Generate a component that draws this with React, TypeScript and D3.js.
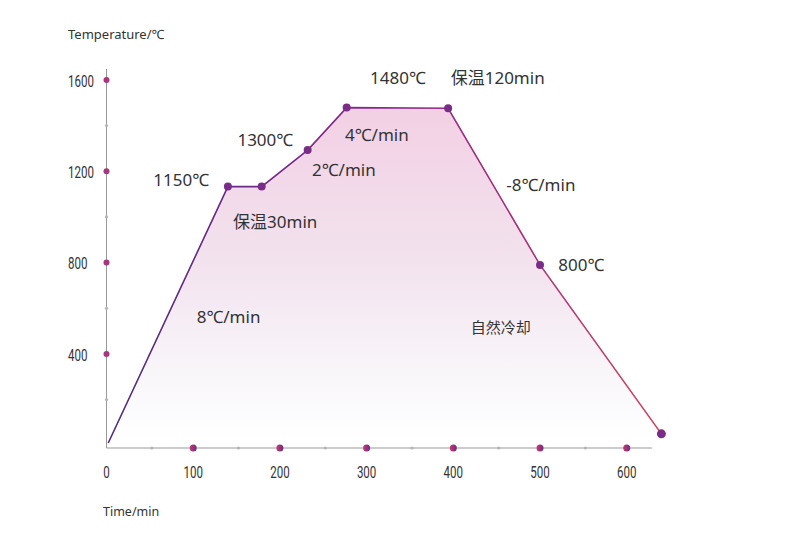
import React from "react";
import * as d3 from "d3";

const W = 793;
const H = 549;

// heating curve
const timeMin = [2, 140, 179, 232, 277, 394, 500, 640];
const tempC = [10, 1133, 1133, 1293, 1479, 1476, 790, 50];

const xTicks = [0, 100, 200, 300, 400, 500, 600];
const xMinor = [50, 150, 250, 350, 450, 550];
const yTicks = [400, 800, 1200, 1600];
const yMinor = [200, 600, 1000, 1400];

const noteText = ["1150℃", "保温30min", "1300℃", "2℃/min", "4℃/min", "1480℃", "保温120min", "-8℃/min", "800℃", "8℃/min", "自然冷却"];
const noteTime = [54, 146, 151, 237, 275, 304, 397, 461, 521, 104, 420];
const noteTemp = [1162, 982, 1338, 1206, 1363, 1609, 1609, 1140, 790, 566, 518];

const FONT = "'Noto Sans', 'Noto Sans CJK SC', sans-serif";
const TICK_FONT = "Roboto, 'DejaVu Sans', sans-serif";

// narrow tick text: squeeze horizontally around the anchor point
const Narrow = ({ x, y, anchor, children }: { x: number; y: number; anchor: "start" | "middle"; children: React.ReactNode }) => (
  <text
    transform={`translate(${x},${y}) scale(0.7,1)`}
    textAnchor={anchor}
    dominantBaseline="central"
    fontFamily={TICK_FONT}
    fontSize={16.5}
    fill="#333"
  >
    {children}
  </text>
);

export default function App() {
  const x = d3.scaleLinear().domain([0, 640]).range([106.5, 661.4]);
  const y = d3.scaleLinear().domain([-12, 1648]).range([448, 69]);

  const pts: [number, number][] = timeMin.map((t, i) => [t, tempC[i]]);

  const line = d3
    .line<[number, number]>()
    .x((d) => x(d[0]))
    .y((d) => y(d[1]));

  const area = d3
    .area<[number, number]>()
    .x((d) => x(d[0]))
    .y0(y(-12))
    .y1((d) => y(d[1]));

  const axisEnd = x(629);

  return (
    <svg
      width={W}
      height={H}
      style={{ position: "absolute", left: 0, top: 0, background: "#fff" }}
    >
      <defs>
        <linearGradient id="lineGrad" gradientUnits="userSpaceOnUse" x1={x(0)} y1={0} x2={x(640)} y2={0}>
          <stop offset="0%" stopColor="#4a2c80" />
          <stop offset="45%" stopColor="#86298a" />
          <stop offset="70%" stopColor="#a02c7a" />
          <stop offset="100%" stopColor="#d0425c" />
        </linearGradient>
        <linearGradient id="fillGrad" gradientUnits="userSpaceOnUse" x1={0} y1={y(1480)} x2={0} y2={y(-12)}>
          <stop offset="0%" stopColor="#f3d0e4" />
          <stop offset="45%" stopColor="#f2e2ee" />
          <stop offset="78%" stopColor="#f9f6fa" />
          <stop offset="90%" stopColor="#fcfbfd" />
          <stop offset="100%" stopColor="#ffffff" stopOpacity={0} />
        </linearGradient>
        <linearGradient id="dotGrad" x1="0" y1="0" x2="1" y2="0">
          <stop offset="0%" stopColor="#c83a6a" />
          <stop offset="100%" stopColor="#6a2c8a" />
        </linearGradient>
      </defs>

      {/* axis titles */}
      <text x={68} y={39} fontFamily={FONT} fontSize={13} fill="#333">
        Temperature/℃
      </text>
      <text x={103} y={516} fontFamily={FONT} fontSize={12.5} fill="#333">
        Time/min
      </text>

      {/* fill under the curve */}
      <path d={area(pts) ?? ""} fill="url(#fillGrad)" />

      {/* axes */}
      <line x1={x(0)} x2={x(0)} y1={y(1648)} y2={y(-12)} stroke="#999" strokeWidth={1} />
      <line x1={x(0)} x2={axisEnd} y1={y(-12)} y2={y(-12)} stroke="#999" strokeWidth={1} />

      {yMinor.map((v) => (
        <circle key={"ym" + v} cx={x(0)} cy={y(v)} r={1.6} fill="#b5b5b5" />
      ))}
      {yTicks.map((v) => (
        <g key={"y" + v}>
          <circle cx={x(0)} cy={y(v)} r={3} fill="#a8367c" />
          <Narrow x={68} y={y(v) + 1} anchor="start">{v}</Narrow>
        </g>
      ))}

      {xMinor.map((v) => (
        <circle key={"xm" + v} cx={x(v) + 2} cy={y(-12)} r={1.6} fill="#b5b5b5" />
      ))}
      {xTicks.map((v) => (
        <g key={"x" + v}>
          {v > 0 && <circle cx={x(v)} cy={y(-12)} r={3.5} fill="url(#dotGrad)" />}
          <Narrow x={x(v)} y={472} anchor="middle">{v}</Narrow>
        </g>
      ))}

      {/* curve + key points */}
      <path d={line(pts) ?? ""} fill="none" stroke="url(#lineGrad)" strokeWidth={1.6} />

      {pts.slice(1).map((d, i) => (
        <circle
          key={"p" + i}
          cx={x(d[0])}
          cy={y(d[1])}
          r={i === pts.length - 2 ? 4.5 : 4}
          fill="#7a2d86"
        />
      ))}

      {noteText.map((t, i) => (
        <text
          key={"n" + i}
          x={x(noteTime[i])}
          y={y(noteTemp[i])}
          dominantBaseline="central"
          fontFamily={FONT}
          fontSize={t === "自然冷却" ? 15 : 17}
          fill="#333"
        >
          {t}
        </text>
      ))}
    </svg>
  );
}
